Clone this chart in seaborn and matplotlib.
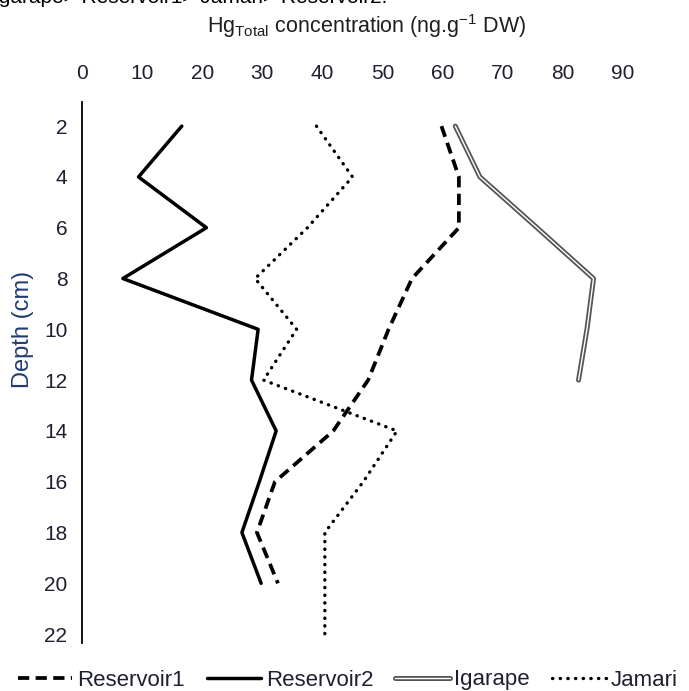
import matplotlib
matplotlib.use("Agg")
import matplotlib.pyplot as plt
import matplotlib.patheffects as pe
import seaborn as sns

# Depth profiles of total Hg in sediment cores
depth_r1 = [2, 4, 6, 8, 10, 12, 14, 16, 18, 20]
reservoir1 = [59.8, 62.7, 62.7, 54.9, 51.0, 47.6, 41.8, 32.1, 29.1, 32.6]

depth_r2 = [2, 4, 6, 8, 10, 12, 14, 16, 18, 20]
reservoir2 = [16.6, 9.4, 20.7, 6.8, 29.3, 28.2, 32.3, 29.5, 26.6, 29.8]

depth_ig = [2, 4, 6, 8, 10, 12]
igarape = [62.1, 66.2, 75.7, 85.1, 84.0, 82.6]

depth_ja = [2, 4, 6, 8, 10, 12, 14, 16, 18, 20, 22]
jamari = [39.0, 45.0, 37.5, 28.8, 35.7, 30.2, 52.4, 46.8, 40.4, 40.4, 40.4]

x_ticks = [0, 10, 20, 30, 40, 50, 60, 70, 80, 90]
y_ticks = [2, 4, 6, 8, 10, 12, 14, 16, 18, 20, 22]

sns.set_style("white")
plt.rcParams["font.family"] = ["Liberation Sans", "DejaVu Sans"]

W, H = 689, 691
fig = plt.figure(figsize=(W / 100, H / 100), dpi=100)
ax = fig.add_axes([82 / W, 1 - 643 / H, (623 - 82) / W, (643 - 102) / H])

tick_color = "#1e2030"

sns.lineplot(x=reservoir1, y=depth_r1, ax=ax, sort=False, estimator=None,
             color="black", linewidth=2.7, label="Reservoir1",
             linestyle=(0, (3.0, 1.7)))
sns.lineplot(x=reservoir2, y=depth_r2, ax=ax, sort=False, estimator=None,
             color="black", linewidth=2.5, label="Reservoir2")
sns.lineplot(x=igarape, y=depth_ig, ax=ax, sort=False, estimator=None,
             color="white", linewidth=1.0, label="Igarape",
             path_effects=[pe.Stroke(linewidth=3.6, foreground="#555555"),
                           pe.Normal()])
sns.lineplot(x=jamari, y=depth_ja, ax=ax, sort=False, estimator=None,
             color="black", linewidth=2.4, label="Jamari",
             linestyle=(0, (0.1, 2.2)), dash_capstyle="round")

ax.set_xlim(0, 90)
ax.set_ylim(22.35, 1.05)
ax.xaxis.tick_top()
ax.set_xticks(x_ticks)
ax.set_xticklabels([str(v) for v in x_ticks])
ax.set_yticks(y_ticks)
ax.set_yticklabels([str(v) for v in y_ticks])
ax.tick_params(axis="x", length=0, pad=13.5, labelsize=15, labelcolor=tick_color)
ax.tick_params(axis="y", length=0, pad=10.5, labelsize=15, labelcolor=tick_color)

for side in ("top", "right", "bottom"):
    ax.spines[side].set_visible(False)
ax.spines["left"].set_color("black")
ax.spines["left"].set_linewidth(1.3)

ax.set_xlabel("")
ax.set_ylabel("")
if ax.legend_ is not None:
    ax.legend_.remove()

fig.text(367 / W, 1 - 26 / H,
         r"Hg$_{\mathregular{Total}}$ concentration (ng.g$^{\mathregular{-1}}$ DW)",
         ha="center", va="center", fontsize=15.5, color="#1e1e1e")
fig.text(23 / W, 1 - 329 / H, "Depth (cm)", rotation=90, ha="center",
         va="center", fontsize=17, color="#1f3b70")

fig.text(-7 / W, 1 - 3 / H, "Igarape> Reservoir1> Jamari> Reservoir2.",
         ha="left", va="baseline", fontsize=15, color="black")

handles = ax.get_lines()[:4]
labels = ["Reservoir1", "Reservoir2", "Igarape", "Jamari"]
leg = fig.legend(handles, labels, loc="center left",
                 bbox_to_anchor=(18 / W, 1 - 680 / H), ncol=4, frameon=False,
                 fontsize=16, handlelength=2.45, handletextpad=0.2,
                 columnspacing=1.0, borderaxespad=0, borderpad=0)
for t in leg.get_texts():
    t.set_color(tick_color)

fig.savefig("out.png", dpi=100)
